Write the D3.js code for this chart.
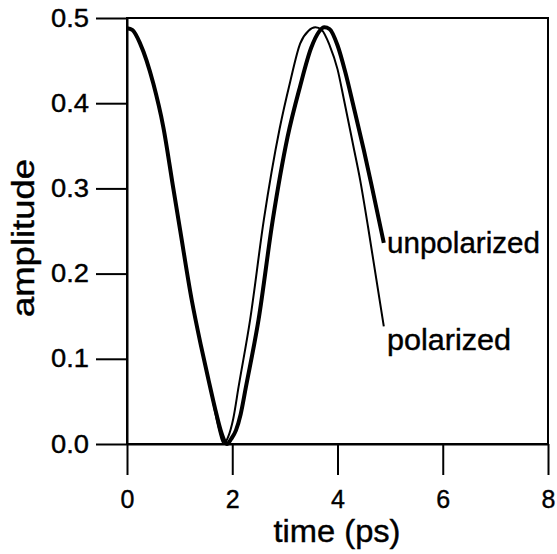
<!DOCTYPE html>
<html>
<head>
  <meta charset="utf-8">
  <title>amplitude vs time</title>
  <style>
    body { margin: 0; background: #fff; }
    text { font-family: "Liberation Sans", Arial, sans-serif; fill: #000; stroke: #000; stroke-width: 0.4px; }
  </style>
</head>
<body>
  <svg width="557" height="554"></svg>
  <script src="https://d3js.org/d3.v7.min.js"></script>
  <script>
  // data
  var xTicks = [0, 2, 4, 6, 8];
  var yTicks = [0.0, 0.1, 0.2, 0.3, 0.4, 0.5];

  // unpolarized (thick line)
  var unpolT = [0, 0.1, 0.25, 0.5, 0.69, 0.88, 1.01, 1.23, 1.4, 1.55, 1.68, 1.78, 1.85, 1.9,
                1.98, 2.07, 2.16, 2.26, 2.5, 2.77, 3.05, 3.29, 3.5, 3.65, 3.75, 3.85, 4.0,
                4.15, 4.31, 4.5, 4.65, 4.88];
  var unpolA = [0.488, 0.486, 0.470, 0.423, 0.372, 0.300, 0.251, 0.169, 0.117, 0.075, 0.040, 0.016, 0.004, 0.0,
                0.006, 0.016, 0.035, 0.067, 0.146, 0.263, 0.360, 0.420, 0.465, 0.484, 0.489, 0.487, 0.468,
                0.436, 0.395, 0.345, 0.303, 0.236];

  // polarized (thin line)
  var polT = [0, 0.1, 0.25, 0.5, 0.69, 0.88, 1.01, 1.23, 1.4, 1.55, 1.66, 1.75, 1.84,
              1.92, 2.02, 2.12, 2.34, 2.6, 2.9, 3.1, 3.29, 3.45, 3.58, 3.7, 3.85,
              4.0, 4.12, 4.3, 4.43, 4.58, 4.88];
  var polA = [0.488, 0.486, 0.470, 0.423, 0.372, 0.300, 0.251, 0.169, 0.117, 0.075, 0.042, 0.016, 0.0,
              0.008, 0.030, 0.067, 0.146, 0.263, 0.370, 0.425, 0.470, 0.485, 0.489, 0.486, 0.468,
              0.440, 0.405, 0.350, 0.310, 0.255, 0.138];

  var svg = d3.select("svg");

  var x = d3.scaleLinear().domain([0, 8]).range([127, 548]);
  var y = d3.scaleLinear().domain([0, 0.5]).range([444, 18]);

  // frame (top and right sides)
  svg.append("rect")
    .attr("x", x(0)).attr("y", y(0.5))
    .attr("width", x(8) - x(0)).attr("height", y(0) - y(0.5))
    .attr("fill", "none").attr("stroke", "#000").attr("stroke-width", 2);

  // axes
  var xAxis = d3.axisBottom(x).tickValues(xTicks).tickSize(31).tickSizeOuter(0).tickPadding(15)
    .tickFormat(d3.format("d"));
  var yAxis = d3.axisLeft(y).tickValues(yTicks).tickSize(31).tickSizeOuter(0).tickPadding(7)
    .tickFormat(d3.format(".1f"));

  var gx = svg.append("g").attr("transform", "translate(0," + y(0) + ")").call(xAxis);
  var gy = svg.append("g").attr("transform", "translate(" + x(0) + ",0)").call(yAxis);

  [gx, gy].forEach(function(g) {
    g.selectAll("path, line").attr("stroke", "#000").attr("stroke-width", 2);
    g.selectAll("text").style("font-family", '"Liberation Sans", Arial, sans-serif')
      .style("font-size", "25px").attr("fill", "#000");
  });
  // widen the tick labels a little, like the scanned original
  gy.selectAll("text").attr("textLength", 38).attr("lengthAdjust", "spacingAndGlyphs");

  // lines
  var line = d3.line()
    .x(function(d) { return x(d[0]); })
    .y(function(d) { return y(d[1]); })
    .curve(d3.curveMonotoneX);

  var unpol = d3.zip(unpolT, unpolA);
  var pol = d3.zip(polT, polA);

  svg.append("path").datum(pol).attr("d", line)
    .attr("fill", "none").attr("stroke", "#000").attr("stroke-width", 2);
  svg.append("path").datum(unpol).attr("d", line)
    .attr("fill", "none").attr("stroke", "#000").attr("stroke-width", 4);

  // curve labels
  svg.append("text").attr("x", 387).attr("y", 253).style("font-size", "29px")
    .attr("textLength", 153).attr("lengthAdjust", "spacingAndGlyphs").text("unpolarized");
  svg.append("text").attr("x", 387).attr("y", 350).style("font-size", "29px")
    .attr("textLength", 124).attr("lengthAdjust", "spacingAndGlyphs").text("polarized");

  // axis titles
  svg.append("text").attr("x", 337).attr("y", 542).attr("text-anchor", "middle")
    .style("font-size", "31px").attr("textLength", 127).attr("lengthAdjust", "spacingAndGlyphs")
    .text("time (ps)");
  svg.append("text").attr("transform", "translate(34,238) rotate(-90)").attr("text-anchor", "middle")
    .style("font-size", "31px").attr("textLength", 158).attr("lengthAdjust", "spacingAndGlyphs")
    .text("amplitude");
  </script>
</body>
</html>
